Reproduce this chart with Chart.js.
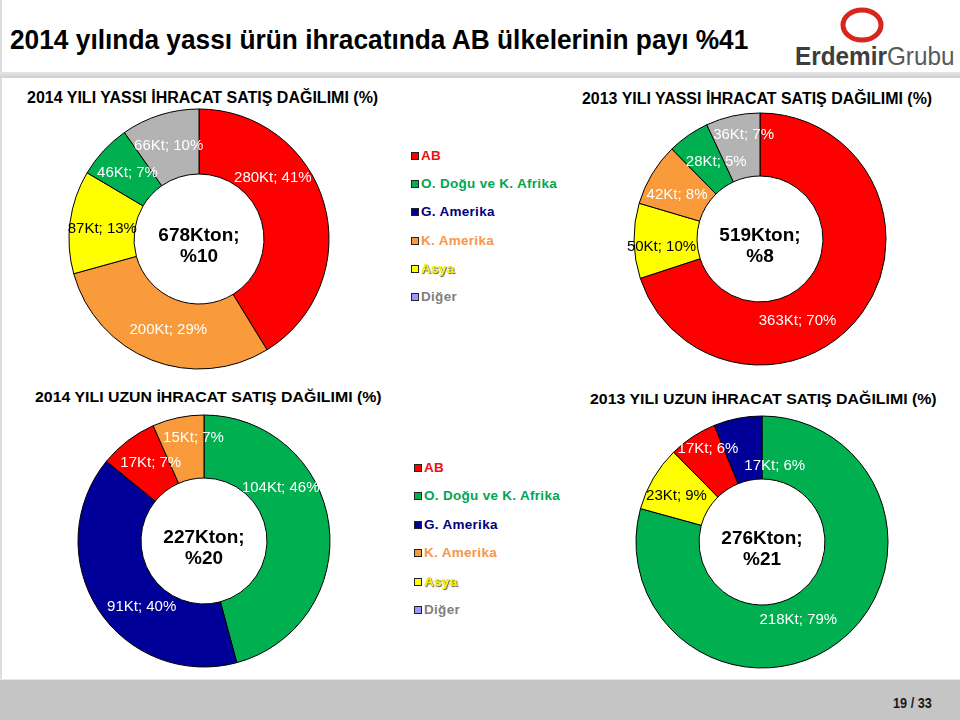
<!DOCTYPE html>
<html>
<head>
<meta charset="utf-8">
<script src="https://cdn.jsdelivr.net/npm/chart.js@4.4.1/dist/chart.umd.min.js"></script>
<style>
  body { margin: 0; width: 960px; height: 720px; position: relative; overflow: hidden; background: #fff;
         font-family: "Liberation Sans", Arial, sans-serif; }
  .abs { position: absolute; white-space: nowrap; line-height: 1; transform-origin: left center; }
  .narrow { font-family: "Liberation Sans Narrow", "Liberation Sans", Arial, sans-serif; font-weight: bold; }
  canvas { position: absolute; }
  .leg { position: absolute; white-space: nowrap; font-weight: bold; font-size: 13.5px; letter-spacing: 0.3px; line-height: 1; }
  .leg i { position: absolute; width: 6px; height: 6px; border: 1px solid #222; top: 3px; }
</style>
</head>
<body>
<div style="position:absolute;left:0;top:0;width:2px;height:680px;background:#ddd"></div>
<div style="position:absolute;left:0;top:72px;width:960px;height:6px;background:linear-gradient(#e6e6e6,#cfcfcf)"></div>
<div id="title" class="abs narrow" style="left:10px;top:26px;font-size:28px" data-w="738">2014 yılında yassı ürün ihracatında AB ülkelerinin payı %41</div>

<svg style="position:absolute;left:835px;top:4px" width="56" height="44">
  <ellipse cx="27" cy="21" rx="19" ry="15" fill="none" stroke="#d9261c" stroke-width="5"/>
</svg>
<div class="abs" style="left:795px;top:43px;font-size:26px;color:#3d3d3d" data-w="160"><b>Erdemir</b><span style="color:#5a5a5a">Grubu</span></div>

<div class="abs narrow" style="left:27px;top:90px;font-size:16px" data-w="351">2014 YILI YASSI İHRACAT SATIŞ DAĞILIMI (%)</div>
<div class="abs narrow" style="left:582px;top:91px;font-size:16px" data-w="350">2013 YILI YASSI İHRACAT SATIŞ DAĞILIMI (%)</div>
<div class="abs" style="left:35px;top:390px;font-size:14px;font-weight:bold" data-w="347">2014 YILI UZUN İHRACAT SATIŞ DAĞILIMI (%)</div>
<div class="abs" style="left:590px;top:392px;font-size:14px;font-weight:bold" data-w="347">2013 YILI UZUN İHRACAT SATIŞ DAĞILIMI (%)</div>

<canvas id="c1" width="320" height="320"></canvas>
<canvas id="c2" width="320" height="320"></canvas>
<canvas id="c3" width="320" height="320"></canvas>
<canvas id="c4" width="320" height="320"></canvas>

<div id="legendTop"></div>
<div id="legendBottom"></div>

<div style="position:absolute;left:0;top:679px;width:960px;height:41px;background:#c5c5c5;border-top:1px solid #e8e8e8"></div>
<div class="abs narrow" style="left:893px;top:696px;font-size:14px;color:#1a1a1a" data-w="39">19 / 33</div>

<script>
// Dilimler saat yönünde, tepeden başlayarak
const yassi2014Labels = ["AB", "K. Amerika", "Asya", "O. Doğu ve K. Afrika", "Diğer"];
const yassi2014Values = [280, 200, 87, 46, 66];
const yassi2014Pcts = [41, 29, 13, 7, 10];

const yassi2013Labels = ["AB", "Asya", "K. Amerika", "O. Doğu ve K. Afrika", "Diğer"];
const yassi2013Values = [363, 50, 42, 28, 36];
const yassi2013Pcts = [70, 10, 8, 5, 7];

const uzun2014Labels = ["O. Doğu ve K. Afrika", "G. Amerika", "AB", "K. Amerika"];
const uzun2014Values = [104, 91, 17, 15];
const uzun2014Pcts = [46, 40, 7, 7];

const uzun2013Labels = ["O. Doğu ve K. Afrika", "Asya", "AB", "G. Amerika"];
const uzun2013Values = [218, 23, 17, 17];
const uzun2013Pcts = [79, 9, 6, 6];

// ortadaki toplam (Kton) ve pay (%)
const centerTotals = [678, 519, 227, 276];
const centerShares = [10, 8, 20, 21];

const legendLabels = ["AB", "O. Doğu ve K. Afrika", "G. Amerika", "K. Amerika", "Asya", "Diğer"];

// renkler
const sliceColors = {
  "AB": "#ff0000",
  "O. Doğu ve K. Afrika": "#00b050",
  "G. Amerika": "#000099",
  "K. Amerika": "#f99b3a",
  "Asya": "#ffff00",
  "Diğer": "#b3b3b3"
};
const legendTextColors = {
  "AB": "#ee1111",
  "O. Doğu ve K. Afrika": "#00a651",
  "G. Amerika": "#000080",
  "K. Amerika": "#f7964a",
  "Asya": "#f4f400",
  "Diğer": "#7f7f7f"
};
const legendBoxColors = Object.assign({}, sliceColors, { "Diğer": "#9999ff" });

// Label text drawn on each slice + the two-line total in the hole
const donutText = {
  id: "donutText",
  afterDatasetsDraw(chart, args, opts) {
    const ctx = chart.ctx;
    const meta = chart.getDatasetMeta(0);
    const ds = chart.data.datasets[0];
    ctx.save();
    ctx.textAlign = "center";
    ctx.textBaseline = "middle";
    ctx.font = '15px "Liberation Sans", Arial, sans-serif';
    meta.data.forEach((arc, i) => {
      const p = arc.tooltipPosition();
      const off = opts.offsets[i];
      ctx.fillStyle = chart.data.labels[i] === "Asya" ? "#000" : "#fff";
      ctx.fillText(`${ds.data[i]}Kt; ${opts.pcts[i]}%`, p.x + off[0], p.y + off[1]);
    });
    const a = meta.data[0];
    ctx.fillStyle = "#000";
    ctx.font = 'bold 19px "Liberation Sans", Arial, sans-serif';
    ctx.fillText(`${opts.total}Kton;`, a.x, a.y - 3);
    ctx.fillText(`%${opts.share}`, a.x, a.y + 18);
    ctx.restore();
  }
};

function donut(id, cx, cy, radius, labels, values, pcts, total, share, offsets) {
  const el = document.getElementById(id);
  el.style.left = (cx - 160) + "px";
  el.style.top = (cy - 160) + "px";
  return new Chart(el, {
    type: "doughnut",
    data: {
      labels: labels,
      datasets: [{
        data: values,
        backgroundColor: labels.map(l => sliceColors[l]),
        borderColor: "#000",
        borderWidth: 1,
        hoverOffset: 0
      }]
    },
    options: {
      responsive: false,
      animation: false,
      radius: radius,
      cutout: "50%",
      events: [],
      plugins: {
        legend: { display: false },
        tooltip: { enabled: false },
        donutText: { pcts: pcts, total: total, share: share, offsets: offsets }
      }
    },
    plugins: [donutText]
  });
}

donut("c1", 199, 239, 130, yassi2014Labels, yassi2014Values, yassi2014Pcts, centerTotals[0], centerShares[0],
  [[-20, -35], [5, 0], [0, 3], [0, 0], [-1, 0]]);
donut("c2", 760, 239, 126, yassi2013Labels, yassi2013Values, yassi2013Pcts, centerTotals[1], centerShares[1],
  [[-39, 26], [-4, 6], [-2, 5], [10, 1], [4, -12]]);
donut("c3", 204, 541, 126, uzun2014Labels, uzun2014Values, uzun2014Pcts, centerTotals[2], centerShares[2],
  [[-17, -41], [17, 15], [4, -3], [9, -11]]);
donut("c4", 762, 542, 126, uzun2013Labels, uzun2013Values, uzun2013Pcts, centerTotals[3], centerShares[3],
  [[-21, 3], [-4, 2], [-2, -14], [31, 17]]);

// legends between the charts
function buildLegend(holder, boxLeft, firstY, step) {
  const box = document.getElementById(holder);
  legendLabels.forEach((label, i) => {
    const row = document.createElement("div");
    row.className = "leg";
    row.style.left = (boxLeft + 10) + "px";
    row.style.top = (firstY + i * step - 7) + "px";
    row.style.color = legendTextColors[label];
    if (label === "Asya") row.style.textShadow = "1px 1px 1px #555";
    row.innerHTML = `<i style="left:-10px;background:${legendBoxColors[label]}"></i>${label}`;
    box.appendChild(row);
  });
}
buildLegend("legendTop", 411, 156, 28.2);
buildLegend("legendBottom", 414, 467.5, 28.5);

// stretch/squeeze text blocks to the widths seen on the slide
document.querySelectorAll("[data-w]").forEach(el => {
  const w = el.offsetWidth;
  el.style.transform = `scaleX(${+el.dataset.w / w})`;
});
</script>
</body>
</html>
